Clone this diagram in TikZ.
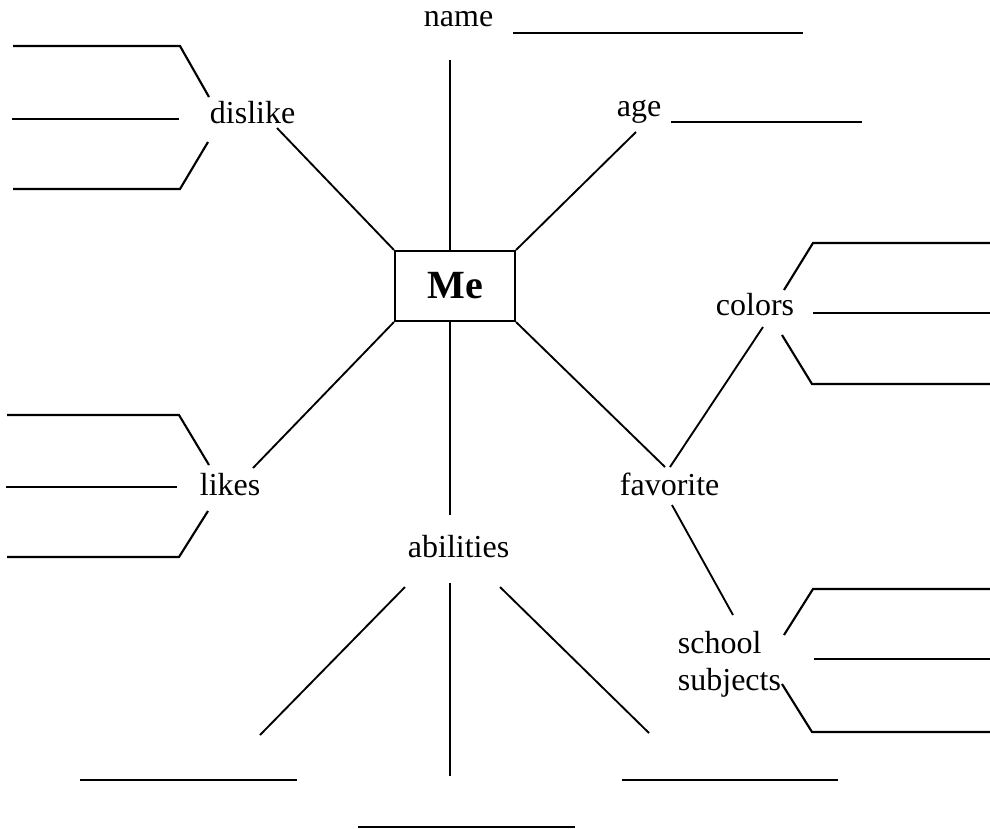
\documentclass[tikz,border=0pt]{standalone}
\usepackage{fontspec}
\setmainfont{Liberation Serif}
\begin{document}
\begin{tikzpicture}[x=0.75pt,y=-0.75pt,line width=1.4pt,
  lbl/.style={anchor=base west,inner sep=0pt,font=\fontsize{24}{29}\selectfont},
  blank/.style={line width=1.6pt},
  spoke/.style={line width=1.4pt}]
\useasboundingbox (0,0) rectangle (990,829);
% central box
\node[draw,line width=1.6pt,minimum width=90pt,minimum height=52.5pt,inner sep=0pt,
  font=\fontsize{30}{35}\selectfont\bfseries] (me) at (455,286) {Me};
% labels
\node[lbl] (name) at (423,26) {name};
\node[lbl] (age) at (616,116) {age};
\node[lbl] (dislike) at (209,123) {dislike};
\node[lbl] (likes) at (199,495) {likes};
\node[lbl] (colors) at (715,315) {colors};
\node[lbl] (favorite) at (619,495) {favorite};
\node[lbl] (school) at (677,653) {school};
\node[lbl] (subjects) at (677,690) {subjects};
\node[lbl] (abilities) at (407,557) {abilities};
% spoke end points
\coordinate (nt) at (450,60);
\coordinate (nb) at (450,515);
\coordinate (dl) at (277,128);
\coordinate (ag) at (636,132);
\coordinate (lk) at (253,468);
\coordinate (fv) at (665,467);
% spokes
\draw[spoke] (me.north -| nt) -- (nt);
\draw[spoke] (me.south -| nb) -- (nb);
\draw[spoke] (me.north west) -- (dl);
\draw[spoke] (me.north east) -- (ag);
\draw[spoke] (me.south west) -- (lk);
\draw[spoke] (me.south east) -- (fv);
% name / age blanks
\draw[blank] (513,33) -- (803,33);
\draw[blank] (671,122) -- (862,122);
% dislike
\draw[blank] (13,46) -- (180,46) -- (209,97);
\draw[blank] (12,119) -- (179,119);
\draw[blank] (13,189) -- (180,189) -- (208,142);
% likes
\draw[blank] (7,415) -- (179,415) -- (209,465);
\draw[blank] (6,487) -- (177,487);
\draw[blank] (7,557) -- (179,557) -- (208,511);
% favorite branches
\draw[spoke] (670,467) -- (763,327);
\draw[spoke] (672,505) -- (733,615);
% colors
\draw[blank] (990,243) -- (813,243) -- (784,290);
\draw[blank] (990,313) -- (813,313);
\draw[blank] (990,384) -- (812,384) -- (782,335);
% school subjects
\draw[blank] (990,589) -- (813,589) -- (784,635);
\draw[blank] (990,659) -- (814,659);
\draw[blank] (990,732) -- (812,732) -- (782,684);
% abilities
\draw[spoke] (405,587) -- (260,735);
\draw[spoke] (450,583) -- (450,776);
\draw[spoke] (500,587) -- (649,733);
\draw[blank] (80,780) -- (297,780);
\draw[blank] (622,780) -- (838,780);
\draw[blank] (358,827) -- (575,827);
\end{tikzpicture}
\end{document}
